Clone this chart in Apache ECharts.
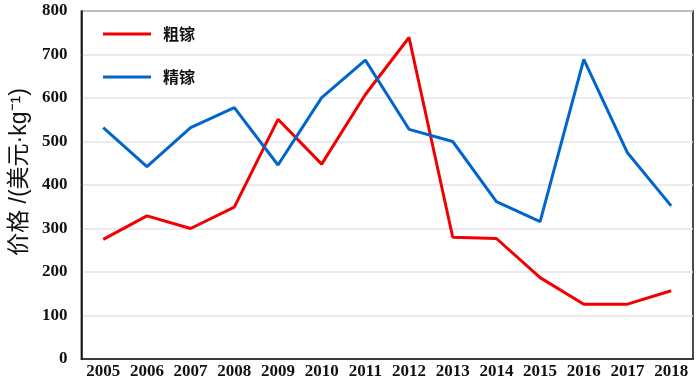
<!DOCTYPE html>
<html><head><meta charset="utf-8">
<script src="https://cdn.jsdelivr.net/npm/echarts@6/dist/echarts.min.js"></script>
<style>html,body{margin:0;padding:0;background:#fff}#c{width:700px;height:380px}</style>
</head><body><div id="c"></div>
<script>
const years = ['2005','2006','2007','2008','2009','2010','2011','2012','2013','2014','2015','2016','2017','2018'];
const crudeGallium = [275, 329, 300, 349, 551, 448, 608, 739, 280, 277, 187, 126, 126, 157];
const refinedGallium = [532, 442, 532, 578, 446, 601, 687, 528, 500, 362, 316, 689, 474, 352];
const seriesNames = ['粗镓', '精镓'];
const yAxisName = '价格 /(美元·kg⁻¹)';

const chart = echarts.init(document.getElementById('c'), null, {renderer: 'canvas'});
chart.setOption({
  animation: false,
  backgroundColor: '#fff',
  grid: {left: 78, right: 7, top: 11, bottom: 21, show: true, borderColor: '#111', borderWidth: 1.5, containLabel: false},
  legend: {
    orient: 'vertical', left: 103, top: 26, padding: 0, itemWidth: 48, itemHeight: 3, itemGap: 27,
    icon: 'rect',
    textStyle: {fontFamily: 'Noto Sans CJK SC', fontSize: 16, fontWeight: 'bold', color: '#111', lineHeight: 16, padding: [0,0,0,7]},
    data: seriesNames
  },
  xAxis: {
    type: 'category', data: years, boundaryGap: true,
    axisLine: {lineStyle: {color: '#111', width: 1.5}},
    axisTick: {show: false},
    axisLabel: {fontFamily: 'Liberation Serif', fontWeight: 'bold', fontSize: 17, color: '#111', margin: 4, interval: 0},
    splitLine: {show: false}
  },
  yAxis: {
    type: 'value', min: 0, max: 800, interval: 100,
    name: yAxisName, nameLocation: 'middle', nameGap: 45,
    nameTextStyle: {fontFamily: "'Liberation Sans', 'Noto Sans CJK SC'", fontSize: 23, color: '#111', padding: [0, 0, 0, 26]},
    axisLine: {show: true, lineStyle: {color: '#111', width: 1.5}},
    axisTick: {show: false},
    axisLabel: {fontFamily: 'Liberation Serif', fontWeight: 'bold', fontSize: 17, color: '#111', margin: 14},
    splitLine: {lineStyle: {color: '#e4e4ea', width: 1.5}}
  },
  series: [
    {name: seriesNames[0], type: 'line', data: crudeGallium, symbol: 'none', lineStyle: {color: '#f00000', width: 3}, itemStyle: {color: '#f00000'}},
    {name: seriesNames[1], type: 'line', data: refinedGallium, symbol: 'none', lineStyle: {color: '#0066cc', width: 3}, itemStyle: {color: '#0066cc'}}
  ]
});
</script></body></html>
